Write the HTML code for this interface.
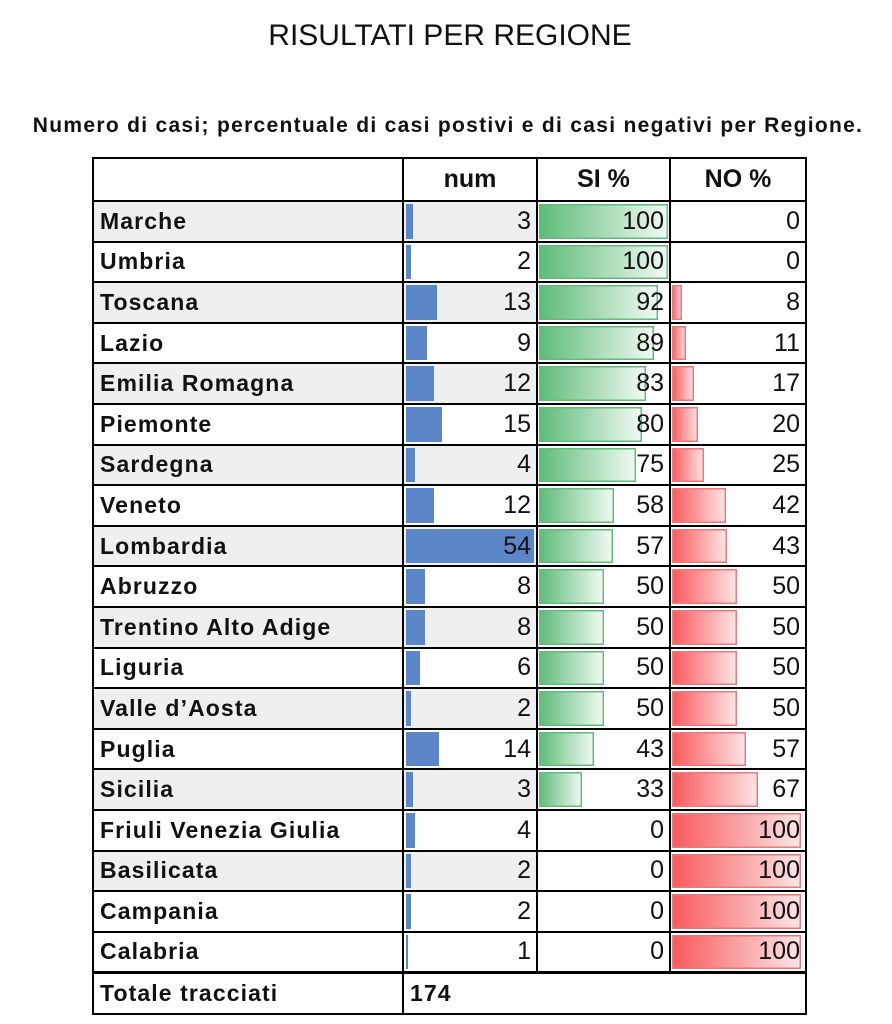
<!DOCTYPE html>
<html><head><meta charset="utf-8"><style>
body{margin:0;background:#fff;width:892px;height:1024px;position:relative;font-family:"Liberation Sans",sans-serif;overflow:hidden}
.t{position:absolute;left:0;width:900px;text-align:center;top:19px;font-size:30px;color:#111;letter-spacing:0px}
.s{position:absolute;left:0;width:896px;text-align:center;top:114px;font-size:21px;letter-spacing:1.3px;font-weight:bold;color:#111;white-space:nowrap}
table{position:absolute;left:92px;top:157px;border-collapse:collapse;table-layout:fixed}
td{border:2px solid #000;height:38.6px;padding:0;position:relative;font-size:25px;color:#111;vertical-align:middle}
td.n{font-weight:bold;font-size:23px;letter-spacing:1.1px;padding-left:6px}
td.v{text-align:right;padding-right:5px}
tr.g td.n,tr.g td.c1{background:#efefef}
.b{position:absolute;left:2px;top:2px;bottom:2px;background:#5b87c9}
.gs{position:absolute;left:1px;top:2px;bottom:2px;background:linear-gradient(90deg,#5dbb78,#f2faf4);box-shadow:inset 0 0 0 1.5px #63be7b}
.rs{position:absolute;left:1px;top:2px;bottom:2px;background:linear-gradient(90deg,#f8595b,#fde6e7);box-shadow:inset 0 0 0 1.5px #f0777a}
span{position:relative}
th{border:2px solid #000;height:39px;font-size:25px;font-weight:bold;color:#111}
</style></head><body>
<div class="t">RISULTATI PER REGIONE</div>
<div class="s">Numero di casi; percentuale di casi postivi e di casi negativi per Regione.</div>
<table>
<colgroup><col style="width:310px"><col style="width:134px"><col style="width:133px"><col style="width:136px"></colgroup>
<tr><th></th><th>num</th><th>SI %</th><th>NO %</th></tr>
<tr class="g"><td class="n">Marche</td><td class="v c1"><div class="b" style="width:7px"></div><span>3</span></td><td class="v"><div class="gs" style="width:129px"></div><span>100</span></td><td class="v"><span>0</span></td></tr>
<tr><td class="n">Umbria</td><td class="v c1"><div class="b" style="width:5px"></div><span>2</span></td><td class="v"><div class="gs" style="width:129px"></div><span>100</span></td><td class="v"><span>0</span></td></tr>
<tr class="g"><td class="n">Toscana</td><td class="v c1"><div class="b" style="width:31px"></div><span>13</span></td><td class="v"><div class="gs" style="width:119px"></div><span>92</span></td><td class="v"><div class="rs" style="width:10px"></div><span>8</span></td></tr>
<tr><td class="n">Lazio</td><td class="v c1"><div class="b" style="width:21px"></div><span>9</span></td><td class="v"><div class="gs" style="width:115px"></div><span>89</span></td><td class="v"><div class="rs" style="width:14px"></div><span>11</span></td></tr>
<tr class="g"><td class="n">Emilia Romagna</td><td class="v c1"><div class="b" style="width:28px"></div><span>12</span></td><td class="v"><div class="gs" style="width:107px"></div><span>83</span></td><td class="v"><div class="rs" style="width:22px"></div><span>17</span></td></tr>
<tr><td class="n">Piemonte</td><td class="v c1"><div class="b" style="width:36px"></div><span>15</span></td><td class="v"><div class="gs" style="width:103px"></div><span>80</span></td><td class="v"><div class="rs" style="width:26px"></div><span>20</span></td></tr>
<tr class="g"><td class="n">Sardegna</td><td class="v c1"><div class="b" style="width:9px"></div><span>4</span></td><td class="v"><div class="gs" style="width:97px"></div><span>75</span></td><td class="v"><div class="rs" style="width:32px"></div><span>25</span></td></tr>
<tr><td class="n">Veneto</td><td class="v c1"><div class="b" style="width:28px"></div><span>12</span></td><td class="v"><div class="gs" style="width:75px"></div><span>58</span></td><td class="v"><div class="rs" style="width:54px"></div><span>42</span></td></tr>
<tr class="g"><td class="n">Lombardia</td><td class="v c1"><div class="b" style="width:128px"></div><span>54</span></td><td class="v"><div class="gs" style="width:74px"></div><span>57</span></td><td class="v"><div class="rs" style="width:55px"></div><span>43</span></td></tr>
<tr><td class="n">Abruzzo</td><td class="v c1"><div class="b" style="width:19px"></div><span>8</span></td><td class="v"><div class="gs" style="width:65px"></div><span>50</span></td><td class="v"><div class="rs" style="width:65px"></div><span>50</span></td></tr>
<tr class="g"><td class="n">Trentino Alto Adige</td><td class="v c1"><div class="b" style="width:19px"></div><span>8</span></td><td class="v"><div class="gs" style="width:65px"></div><span>50</span></td><td class="v"><div class="rs" style="width:65px"></div><span>50</span></td></tr>
<tr><td class="n">Liguria</td><td class="v c1"><div class="b" style="width:14px"></div><span>6</span></td><td class="v"><div class="gs" style="width:65px"></div><span>50</span></td><td class="v"><div class="rs" style="width:65px"></div><span>50</span></td></tr>
<tr class="g"><td class="n">Valle d’Aosta</td><td class="v c1"><div class="b" style="width:5px"></div><span>2</span></td><td class="v"><div class="gs" style="width:65px"></div><span>50</span></td><td class="v"><div class="rs" style="width:65px"></div><span>50</span></td></tr>
<tr><td class="n">Puglia</td><td class="v c1"><div class="b" style="width:33px"></div><span>14</span></td><td class="v"><div class="gs" style="width:55px"></div><span>43</span></td><td class="v"><div class="rs" style="width:74px"></div><span>57</span></td></tr>
<tr class="g"><td class="n">Sicilia</td><td class="v c1"><div class="b" style="width:7px"></div><span>3</span></td><td class="v"><div class="gs" style="width:43px"></div><span>33</span></td><td class="v"><div class="rs" style="width:86px"></div><span>67</span></td></tr>
<tr><td class="n">Friuli Venezia Giulia</td><td class="v c1"><div class="b" style="width:9px"></div><span>4</span></td><td class="v"><span>0</span></td><td class="v"><div class="rs" style="width:129px"></div><span>100</span></td></tr>
<tr class="g"><td class="n">Basilicata</td><td class="v c1"><div class="b" style="width:5px"></div><span>2</span></td><td class="v"><span>0</span></td><td class="v"><div class="rs" style="width:129px"></div><span>100</span></td></tr>
<tr><td class="n">Campania</td><td class="v c1"><div class="b" style="width:5px"></div><span>2</span></td><td class="v"><span>0</span></td><td class="v"><div class="rs" style="width:129px"></div><span>100</span></td></tr>
<tr class="g"><td class="n" style="background:#fff">Calabria</td><td class="v c1" style="background:#fff"><div class="b" style="width:2px"></div><span>1</span></td><td class="v"><span>0</span></td><td class="v"><div class="rs" style="width:129px"></div><span>100</span></td></tr>
<tr><td class="n" style="border-top:3px solid #000">Totale tracciati</td><td colspan="3" class="n" style="border-top:3px solid #000">174</td></tr>
</table>
</body></html>
